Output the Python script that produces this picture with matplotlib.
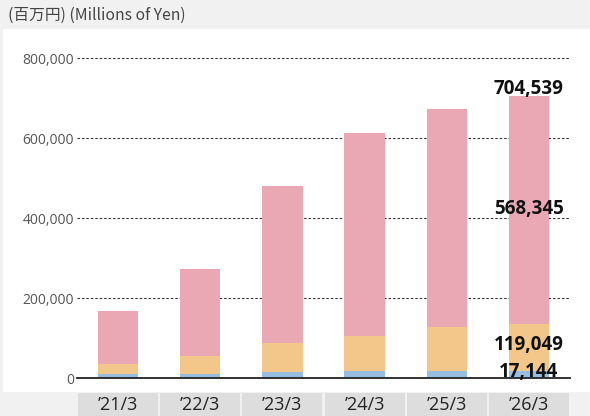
import numpy as np
import matplotlib.pyplot as plt
from matplotlib.patches import Rectangle
from matplotlib.transforms import blended_transform_factory

# values (millions of yen)
years = ["’21/3", "’22/3", "’23/3", "’24/3", "’25/3", "’26/3"]
blue = [9000, 9000, 15000, 17500, 17500, 17144]
orange = [26000, 46000, 72500, 87500, 110000, 119049]
pink = [133000, 217000, 392500, 507000, 544500, 568345]
yticks = [0, 200000, 400000, 600000, 800000]

c_blue = "#97bde0"
c_orange = "#f3c78a"
c_pink = "#e9a8b4"

W, H = 590, 416
fig = plt.figure(figsize=(W / 100, H / 100), dpi=100, facecolor="#f0f1f0")

# white panel behind the chart
fig.patches.append(Rectangle((3 / W, 1 - 392 / H), 587 / W, 363 / H,
                             transform=fig.transFigure, facecolor="white",
                             edgecolor="none", zorder=-5))

fig.text(8 / W, 1 - 15 / H, "(百万円) (Millions of Yen)", ha="left", va="center",
         fontsize=11.3, color="#444444", family=["Noto Sans CJK JP", "DejaVu Sans"])

ax = fig.add_axes([77 / W, 1 - 378 / H, 493 / W, 340 / H])
ax.set_facecolor("none")

x = np.arange(len(years))
b = np.array(blue)
o = np.array(orange)
p = np.array(pink)
ax.bar(x, b, width=0.49, color=c_blue, zorder=2)
ax.bar(x, o, width=0.49, bottom=b, color=c_orange, zorder=2)
ax.bar(x, p, width=0.49, bottom=b + o, color=c_pink, zorder=2)

ax.set_xlim(-0.5, 5.5)
ax.set_ylim(0, 850000)
ax.set_yticks(yticks)
ax.set_yticklabels([f"{v:,}" for v in yticks], fontsize=10, color="#555555",
                   family="Open Sans")
ax.tick_params(axis="y", length=0, pad=2)
ax.set_xticks([])
for t in yticks[1:]:
    ax.axhline(t, color="#333333", lw=0.8, ls=(0, (2.2, 1.8)), zorder=1)
for s in ["top", "right", "left"]:
    ax.spines[s].set_visible(False)
ax.spines["bottom"].set_color("#222222")
ax.spines["bottom"].set_linewidth(1.3)
ax.spines["bottom"].set_zorder(3)

# labels on the last bar
i = len(years) - 1
lab = dict(ha="center", va="center", fontsize=13.5, fontweight="bold",
           color="#111111", family="Open Sans", zorder=4)
total = blue[i] + orange[i] + pink[i] + 1
ax.text(i, total + 17000, f"{total:,}", **lab)
ax.text(i, blue[i] + orange[i] + pink[i] * 0.505, f"{pink[i]:,}", **lab)
ax.text(i, blue[i] + orange[i] * 0.55, f"{orange[i]:,}", **lab)
ax.text(i, blue[i] * 0.9, f"{blue[i]:,}", **lab)

# grey boxes with the year labels
tr = blended_transform_factory(ax.transData, fig.transFigure)
for k, y in enumerate(years):
    fig.patches.append(Rectangle((k - 0.487, 0), 0.974, 23 / H, transform=tr,
                                 facecolor="#dcdddc", edgecolor="none", zorder=-4))
    ax.text(k, 10.5 / H, y, transform=tr, ha="center", va="center",
            fontsize=13, color="#222222", family="Open Sans", clip_on=False)

fig.savefig("out.png", dpi=100, facecolor=fig.get_facecolor())
